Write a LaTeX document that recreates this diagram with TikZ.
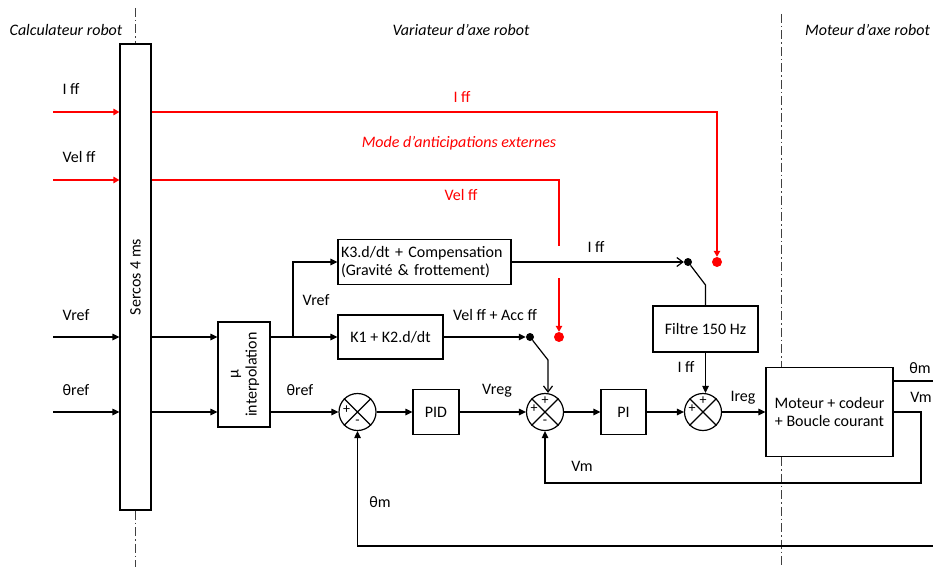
\documentclass[tikz,border=0pt]{standalone}
\usepackage{fontspec}
\setmainfont{Carlito}
\usepackage{xcolor}
\definecolor{AntiRed}{HTML}{FF0000}
\definecolor{ZoneGray}{HTML}{404040}
\usepackage{tikz}
\usetikzlibrary{positioning,arrows.meta,calc}
\tikzset{
  blockbox/.style={draw,line width=1.2pt,inner sep=3pt,font=\fontsize{16}{18}\selectfont},
  sumnode/.style={draw,circle,line width=1.2pt,minimum size=37pt,inner sep=0pt},
  wire/.style={line width=1.2pt},
  signal/.style={wire,-{Triangle[length=7pt,width=6.5pt]}},
  barbarrow/.style={wire,-{Straight Barb[length=6pt,width=9pt]}},
  ffwire/.style={line width=1.2pt,AntiRed},
  ffarrow/.style={ffwire,-{Triangle[length=6pt,width=6.5pt]}},
  zoneline/.style={ZoneGray,line width=1pt,dash pattern=on 9pt off 3pt on 1.5pt off 3pt},
  lbl/.style={font=\fontsize{16}{18}\selectfont,inner sep=0pt},
  zonelbl/.style={lbl,font=\fontsize{16}{18}\selectfont\itshape},
  sgn/.style={font=\fontsize{14}{14}\selectfont,inner sep=0pt},
  swdot/.style={circle,fill,inner sep=0pt,minimum size=8pt},
}
\begin{document}
\begin{tikzpicture}[x=1pt,y=-1pt]
  \clip (0,0) rectangle (933,567);
  \node[blockbox,minimum width=31pt,minimum height=466pt] (sercos) at (135.5,277) {\rotatebox{90}{Sercos 4 ms}};
  \node[blockbox,minimum width=52pt,minimum height=105pt] (interp) at (244,374.5) {\rotatebox{90}{\begin{tabular}{@{}c@{}}µ\\interpolation\end{tabular}}};
  \node[blockbox,minimum width=173pt,minimum height=45pt,text width=167pt,align=left] (k3) at (424.5,262) {K3.d/dt + Compensation\\(Gravité \& frottement)};
  \node[blockbox,minimum width=105pt,minimum height=44pt] (k1) at (390.5,337) {K1 + K2.d/dt};
  \node[blockbox,minimum width=46pt,minimum height=45pt] (pid) at (436,412) {PID};
  \node[blockbox,minimum width=45pt,minimum height=45pt] (pi) at (623.5,412) {PI};
  \node[blockbox,minimum width=105pt,minimum height=46pt] (filter) at (705.5,329) {Filtre 150 Hz};
  \node[blockbox,minimum width=127pt,minimum height=89pt,align=center] (moteur) at (829.5,412) {Moteur + codeur\\+ Boucle courant};

  \node[sumnode] (sum1) at (357.5,412) {};
  \node[sumnode] (sum2) at (545,412) {};
  \node[sumnode] (sum3) at (703,412) {};
  \foreach \s in {sum1,sum2,sum3}
    \draw[wire] (\s.north east) -- (\s.south west) (\s.north west) -- (\s.south east);
  \node[sgn] at ($(sum1)+(-11,-2)$) {+};
  \node[sgn] at ($(sum1)+(0,10)$) {-};
  \node[sgn] at ($(sum2)+(0,-11)$) {+};
  \node[sgn] at ($(sum2)+(-11,-3)$) {+};
  \node[sgn] at ($(sum2)+(0,10)$) {-};
  \node[sgn] at ($(sum3)+(0,-11)$) {+};
  \node[sgn] at ($(sum3)+(-11,-3)$) {+};

  \node[swdot] (idot) at (688,262) {};
  \node[swdot] (vdot) at (530,337) {};
  \node[swdot,AntiRed,minimum size=10pt] (irdot) at (717,262) {};
  \node[swdot,AntiRed,minimum size=10pt] (vrdot) at (559,337) {};

  \coordinate (iffin) at (53,112);
  \coordinate (velin) at (53,180);
  \coordinate (vrefin) at (53,337);
  \coordinate (thin) at (53,412);
  \coordinate (vrgapa) at (559,246);
  \coordinate (vrgapb) at (559,278);
  \coordinate (vrefbr) at (293,337);
  \coordinate (iknee) at (705.5,285);
  \coordinate (vknee) at (548,360);
  \coordinate (thmout) at ($(moteur.north east)+(0,14)$);
  \coordinate (thmturn) at (950,546);
  \coordinate (vmturn) at (921,483);
  \coordinate (zonetop) at (135.5,8);
  \coordinate (zonebot) at (135.5,567);
  \coordinate (mzonetop) at (781,14);
  \coordinate (mzonebot) at (781,567);

  \draw[zoneline] (zonetop) -- (sercos.north);
  \draw[zoneline] (sercos.south) -- (zonebot);
  \draw[zoneline] (mzonetop) -- (mzonetop |- moteur.north);
  \draw[zoneline] (mzonetop |- moteur.south) -- (mzonebot);

  \draw[ffarrow] (iffin) -- (iffin -| sercos.west);
  \draw[ffarrow] (velin) -- (velin -| sercos.west);
  \draw[signal] (vrefin) -- (vrefin -| sercos.west);
  \draw[signal] (thin) -- (thin -| sercos.west);
  \draw[ffarrow] (iffin -| sercos.east) -| (irdot.north);
  \draw[ffwire] (velin -| sercos.east) -| (vrgapa);
  \draw[ffarrow] (vrgapb) -- (vrdot.north);

  \draw[signal] (vrefin -| sercos.east) -- (vrefin -| interp.west);
  \draw[signal] (thin -| sercos.east) -- (thin -| interp.west);
  \draw[signal] (interp.east |- k1.west) -- (k1.west);
  \draw[signal] (vrefbr) |- (k3.west);
  \draw[signal] (interp.east |- sum1.west) -- (sum1.west);
  \draw[barbarrow] (k3.east) -- (idot.west);
  \draw[wire] (idot) -- (iknee) -- (filter.north);
  \draw[signal] (filter.south) -- (filter.south |- sum3.north);
  \draw[signal] (k1.east) -- (vdot.west);
  \draw[barbarrow] (vdot) -- (vknee) -- (vknee |- sum2.north);

  \draw[signal] (sum1) -- (pid);
  \draw[signal] (pid) -- (sum2);
  \draw[signal] (sum2) -- (pi);
  \draw[signal] (pi) -- (sum3);
  \draw[signal] (sum3) -- (moteur);
  \draw[signal] (moteur.east) -| (vmturn) -| (sum2.south);
  \draw[signal] (thmout) -| (thmturn) -| (sum1.south);

  \node[zonelbl] (zcalc) at (66,30) {Calculateur robot};
  \node[zonelbl] (zvar) at (461,30) {Variateur d’axe robot};
  \node[zonelbl] (zmot) at (867.5,30) {Moteur d’axe robot};
  \node[lbl] at (71,89) {I ff};
  \node[lbl] at (79,157) {Vel ff};
  \node[lbl] at (76,315) {Vref};
  \node[lbl] at (76,390) {θref};
  \node[lbl,AntiRed] at (462,97) {I ff};
  \node[zonelbl,AntiRed] at (459,143) {Mode d’anticipations externes};
  \node[lbl,AntiRed] at (461,195) {Vel ff};
  \node[lbl] at (316,300) {Vref};
  \node[lbl] at (495,315) {Vel ff + Acc ff};
  \node[lbl] at (596,247) {I ff};
  \node[lbl] at (300,390) {θref};
  \node[lbl] at (497,391) {Vreg};
  \node[lbl] at (686,367) {I ff};
  \node[lbl] at (743,398) {Ireg};
  \node[lbl] at (920,368) {θm};
  \node[lbl] at (921,397) {Vm};
  \node[lbl] at (582,466) {Vm};
  \node[lbl] at (380,502) {θm};
\end{tikzpicture}
\end{document}
